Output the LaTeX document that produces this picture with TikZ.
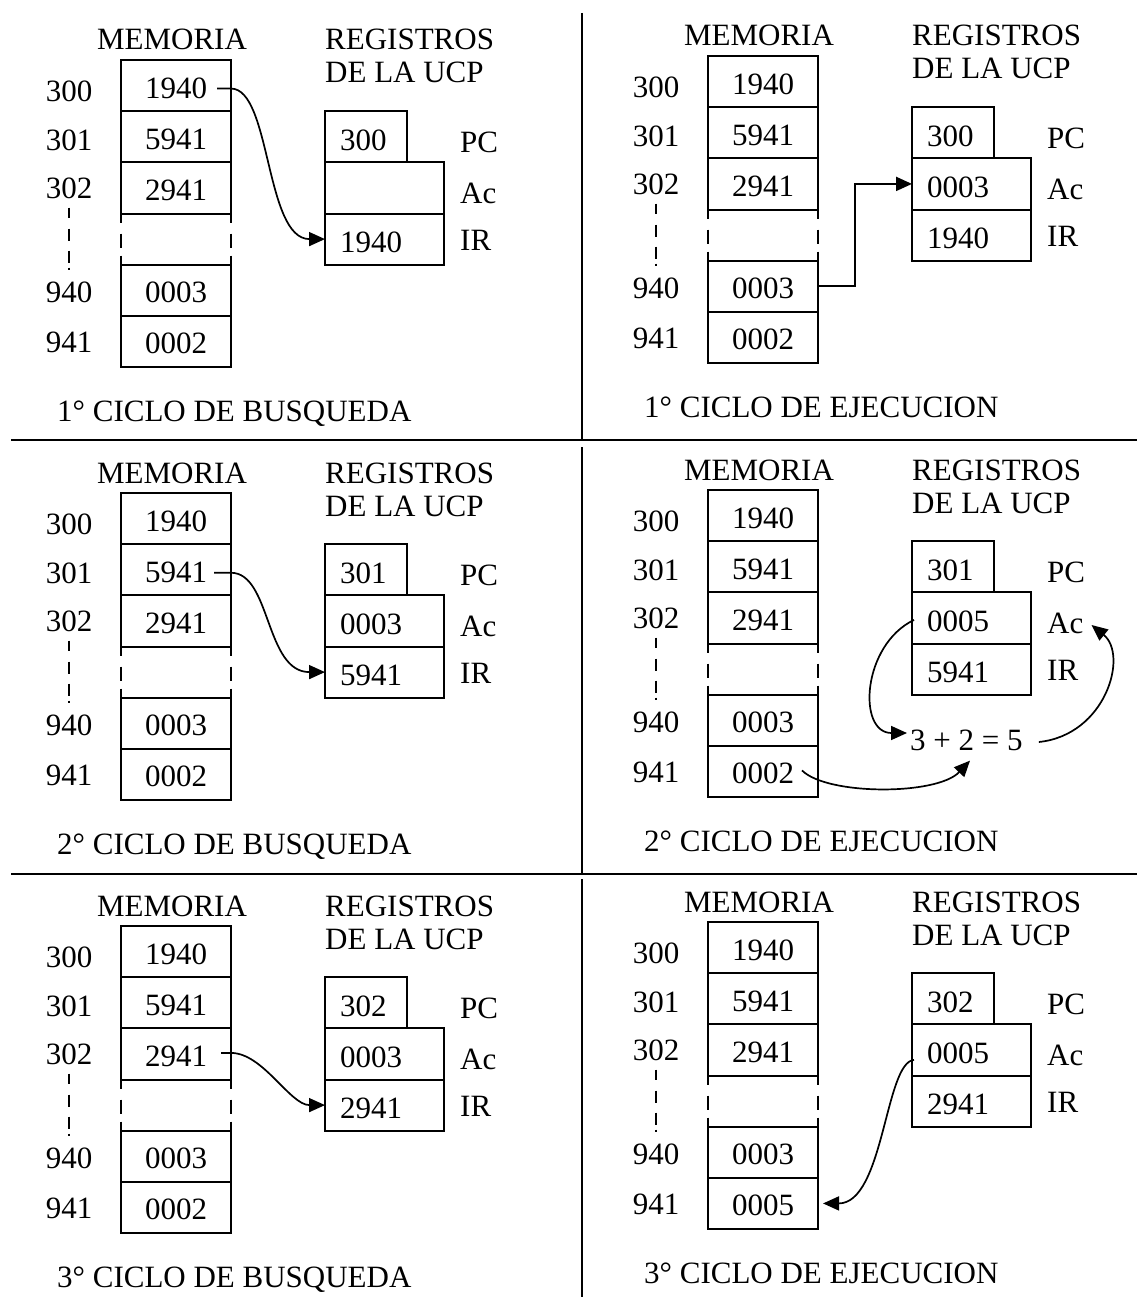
\documentclass[tikz,border=0pt]{standalone}
\usepackage{fontspec}
\setmainfont{Liberation Serif}
\usetikzlibrary{arrows.meta,calc}
\tikzset{
  txt/.style={inner sep=0pt},
  title/.style={inner sep=0pt, anchor=base},
  cell/.style={draw, line width=2pt, outer sep=0pt, minimum width=110pt, minimum height=51.17pt, inner sep=0pt, text height=25pt, text depth=0pt},
  regbox/.style={draw, line width=2pt, outer sep=0pt, minimum height=51.17pt, inner ysep=0pt, inner xsep=15pt, align=left, text height=27pt, text depth=0pt},
  gapline/.style={line width=2pt, dash pattern=on 9pt off 11pt on 14pt off 8pt on 10pt},
  addrline/.style={line width=2pt, dash pattern=on 10pt off 11pt on 12pt off 10pt on 12pt off 5pt on 3pt},
  sepline/.style={line width=2pt},
  arr/.style={line width=1.7pt, -{Triangle[length=16pt,width=14pt]}},
  arrbold/.style={line width=2pt, -{Triangle[length=16pt,width=14pt]}},
}
\newcommand\cpupanel[8]{%
\begin{scope}[shift={(#2,#3)}, name prefix=#1-]
  \node[title] (mem) at (172,50) {MEMORIA};
  \node[title, anchor=base west] (reg1) at (325,50) {REGISTROS};
  \node[title, anchor=base west] (reg2) at (325,83) {DE LA UCP};
  \node[cell] (c300) at (176,85.58) {1940};
  \node[cell] (c301) at (176,136.75) {5941};
  \node[cell] (c302) at (176,187.92) {2941};
  \node[cell] (c940) at (176,290.26) {0003};
  \node[cell] (c941) at (176,341.43) {#4};
  \draw[gapline] (c302.south west) -- (c940.north west);
  \draw[gapline] (c302.south east) -- (c940.north east);
  \node[txt] (a300) at (69,91.7) {300};
  \node[txt] (a301) at (69,140) {301};
  \node[txt] (a302) at (69,188) {302};
  \node[txt] (a940) at (69,292.5) {940};
  \node[txt] (a941) at (69,342.5) {941};
  \draw[addrline] ($(a302.south)+(0,9)$) -- ($(a940.north)+(0,-12)$);
  \node[regbox, text width=52pt] (PC) at (366,136.75) {#5};
  \node[regbox, text width=89pt] (Ac) at (384.5,187.92) {#6};
  \node[regbox, text width=89pt] (IR) at (384.5,239.09) {#7};
  \node[txt, anchor=west] (PCL) at (460,142) {PC};
  \node[txt, anchor=west] (AcL) at (460,193) {Ac};
  \node[txt, anchor=west] (IRL) at (460,240) {IR};
  \node[txt, anchor=base west] (cap) at (57,421) {#8};
\end{scope}}
\begin{document}
\begin{tikzpicture}[x=1pt, y=-1pt, font=\fontsize{31pt}{37pt}\selectfont]
\useasboundingbox (0,0) rectangle (1137,1297);

\cpupanel{p1}{0}{0}{0002}{300}{}{1940}{1° CICLO DE BUSQUEDA}
\cpupanel{p2}{587}{-4}{0002}{300}{0003}{1940}{1° CICLO DE EJECUCION}
\cpupanel{p3}{0}{433}{0002}{301}{0003}{5941}{2° CICLO DE BUSQUEDA}
\cpupanel{p4}{587}{430}{0002}{301}{0005}{5941}{2° CICLO DE EJECUCION}
\cpupanel{p5}{0}{866}{0002}{302}{0003}{2941}{3° CICLO DE BUSQUEDA}
\cpupanel{p6}{587}{862}{0005}{302}{0005}{2941}{3° CICLO DE EJECUCION}

% separators
\draw[sepline] (11,440) -- (1137,440);
\draw[sepline] (11,874) -- (1137,874);
\draw[sepline] (582,13) -- (582,440);
\draw[sepline] (582,447) -- (582,874);
\draw[sepline] (582,879) -- (582,1297);

% panel 1: fetch
\draw[arr] ($(p1-c300.east)+(-14,3)$) -- ($(p1-c300.east)+(0,3)$)
  .. controls +(40,0) and +(-60,0) .. (p1-IR.west);
% panel 2: execute
\draw[arrbold] (p2-c940.east) -- ++(37,0) |- (p2-Ac.west);
% panel 3: fetch
\draw[arr] ($(p3-c301.east)+(-17,3)$) -- ($(p3-c301.east)+(0,3)$)
  .. controls +(40,0) and +(-60,0) .. (p3-IR.west);
% panel 4: execute
\node[txt, anchor=west] (p4-eq) at (910,740) {3 + 2 = 5};
\draw[arr] ($(p4-Ac.west)+(2,2)$) .. controls +(-52,25) and +(-50,0) .. ($(p4-eq.west)+(-3,-7)$);
\draw[arr] ($(p4-eq.east)+(16,2)$) .. controls +(67,-7) and +(37,30) .. ($(p4-AcL.east)+(8,2)$);
\draw[arr] ($(p4-c941.east)+(-16,-1)$) .. controls +(25,25) and +(-33,35) .. ($(p4-eq.south west)+(60,10)$);
% panel 5: fetch
\draw[arr] ($(p5-c302.east)+(-10,-1)$) -- ($(p5-c302.east)+(0,-1)$)
  .. controls +(32,0) and +(-35,0) .. (p5-IR.west);
% panel 6: execute
\draw[arr] ($(p6-Ac.west)+(2,10)$) .. controls +(-29,2) and +(61,0) .. ($(p6-c941.east)+(5,0)$);
\end{tikzpicture}
\end{document}
